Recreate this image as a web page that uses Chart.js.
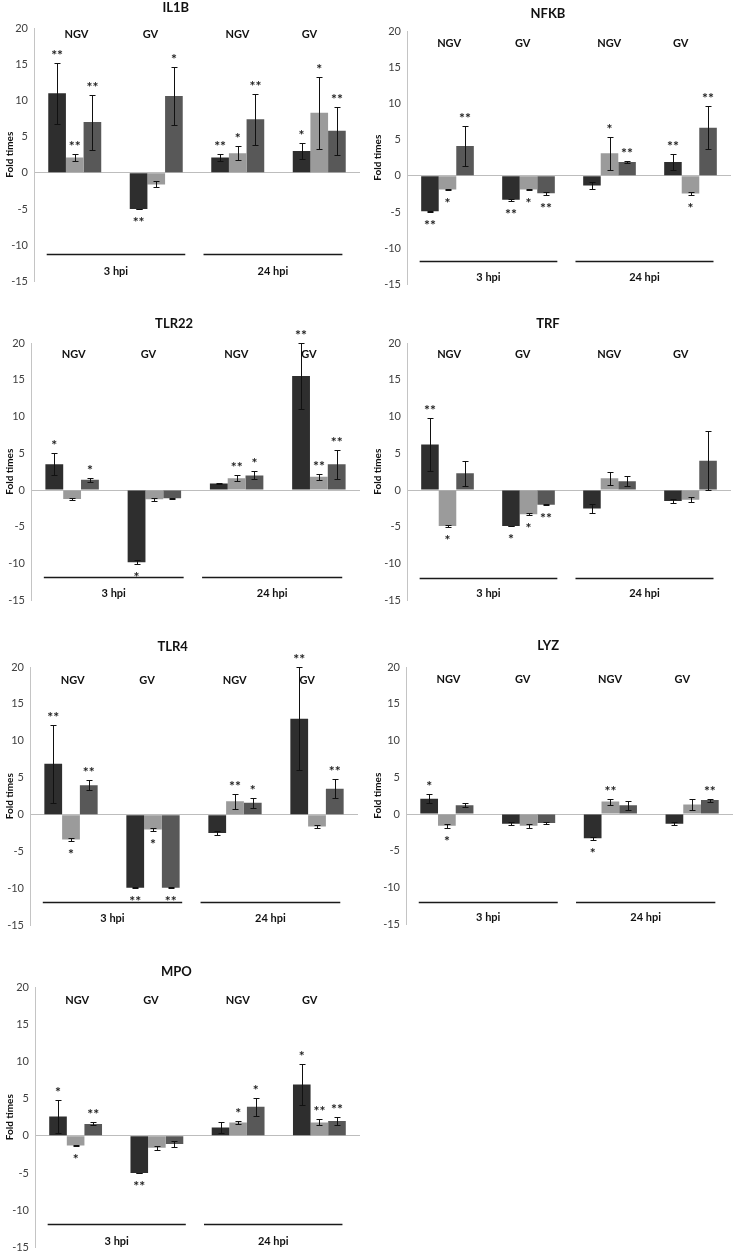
<!DOCTYPE html>
<html><head><meta charset="utf-8">
<script src="https://cdn.jsdelivr.net/npm/chart.js@4.4.0/dist/chart.umd.min.js"></script>
<style>
html,body{margin:0;padding:0;background:#fff;overflow:hidden;width:737px;height:1255px;position:relative;}
canvas{position:absolute;}
</style></head><body>
<script>
// ---------- data ----------
const groupLabels = ["NGV", "GV", "NGV", "GV"];
const timeLabels = ["3 hpi", "24 hpi"];
const seriesNames = ["Series 1", "Series 2", "Series 3"];
const yTicks = [-15, -10, -5, 0, 5, 10, 15, 20];
const yTitle = "Fold times";

const IL1B_values = [[11.0, -5.0, 2.1, 3.0], [2.1, -1.6, 2.7, 8.3], [7.0, 10.6, 7.4, 5.8]];
const IL1B_errors = [[4.2, 0.05, 0.5, 1.1], [0.5, 0.4, 1.0, 5.0], [3.8, 4.0, 3.5, 3.3]];
const IL1B_stars  = [["**", "**", "**", "*"], ["**", "", "*", "*"], ["**", "*", "**", "**"]];

const NFKB_values = [[-4.9, -3.3, -1.35, 1.9], [-1.9, -1.9, 3.1, -2.45], [4.1, -2.4, 1.9, 6.65]];
const NFKB_errors = [[0.1, 0.15, 0.5, 1.05], [0.1, 0.05, 2.3, 0.15], [2.8, 0.2, 0.15, 3.0]];
const NFKB_stars  = [["**", "**", "", "**"], ["*", "*", "*", "*"], ["**", "**", "**", "**"]];

const TLR22_values = [[3.5, -9.8, 0.9, 15.5], [-1.2, -1.25, 1.6, 1.8], [1.4, -1.1, 2.0, 3.5]];
const TLR22_errors = [[1.5, 0.3, 0.1, 4.5], [0.1, 0.2, 0.4, 0.45], [0.3, 0.05, 0.55, 2.0]];
const TLR22_stars  = [["*", "*", "", "**"], ["", "", "**", "**"], ["*", "", "*", "**"]];

const TRF_values = [[6.2, -4.9, -2.5, -1.5], [-4.9, -3.3, 1.6, -1.3], [2.3, -2.0, 1.2, 4.0]];
const TRF_errors = [[3.6, 0.05, 0.6, 0.3], [0.1, 0.15, 0.85, 0.3], [1.7, 0.05, 0.65, 4.0]];
const TRF_stars  = [["**", "*", "", ""], ["*", "*", "", ""], ["", "**", "", ""]];

const TLR4_values = [[6.9, -9.9, -2.5, 13.0], [-3.35, -2.0, 1.8, -1.6], [4.0, -9.9, 1.6, 3.5]];
const TLR4_errors = [[5.3, 0.05, 0.3, 7.0], [0.2, 0.2, 1.0, 0.15], [0.7, 0.05, 0.65, 1.3]];
const TLR4_stars  = [["**", "**", "", "**"], ["*", "*", "**", ""], ["**", "**", "*", "**"]];

const LYZ_values = [[2.1, -1.3, -3.3, -1.3], [-1.6, -1.6, 1.7, 1.3], [1.2, -1.2, 1.2, 1.9]];
const LYZ_errors = [[0.65, 0.25, 0.2, 0.2], [0.25, 0.25, 0.4, 0.7], [0.25, 0.1, 0.6, 0.2]];
const LYZ_stars  = [["*", "", "*", ""], ["*", "", "**", ""], ["", "", "", "**"]];

const MPO_values = [[2.6, -5.0, 1.1, 6.9], [-1.3, -1.6, 1.8, 1.8], [1.6, -1.1, 3.9, 2.0]];
const MPO_errors = [[2.2, 0.05, 0.75, 2.7], [0.1, 0.25, 0.2, 0.4], [0.2, 0.35, 1.2, 0.55]];
const MPO_stars  = [["*", "**", "", "*"], ["*", "", "*", "**"], ["**", "", "*", "**"]];

// ---------- style / layout ----------
const barColors = ["#2e2e2e", "#9b9b9b", "#585858"];
const FONT = "Lato, 'Liberation Sans', sans-serif";

const panels = [
  {title: "IL1B",  v: IL1B_values,  e: IL1B_errors,  s: IL1B_stars,  x0: 0,   w: 368, left: 34,  right: 360, top: 28,  bottom: 284,  titleDy: 20, groupDy: 6,  lineVal: -11.2, labVal: -13.6},
  {title: "NFKB",  v: NFKB_values,  e: NFKB_errors,  s: NFKB_stars,  x0: 368, w: 369, left: 407, right: 731, top: 31,  bottom: 287,  titleDy: 17, groupDy: 12, lineVal: -11.8, labVal: -14.0},
  {title: "TLR22", v: TLR22_values, e: TLR22_errors, s: TLR22_stars, x0: 0,   w: 368, left: 31,  right: 360, top: 343, bottom: 603,  titleDy: 19, groupDy: 11, lineVal: -11.8, labVal: -14.1},
  {title: "TRF",   v: TRF_values,   e: TRF_errors,   s: TRF_stars,   x0: 368, w: 369, left: 407, right: 731, top: 343, bottom: 603,  titleDy: 19, groupDy: 11, lineVal: -11.9, labVal: -14.1},
  {title: "TLR4",  v: TLR4_values,  e: TLR4_errors,  s: TLR4_stars,  x0: 0,   w: 368, left: 30,  right: 358, top: 667, bottom: 928,  titleDy: 20, groupDy: 13, lineVal: -11.85, labVal: -14.1},
  {title: "LYZ",   v: LYZ_values,   e: LYZ_errors,   s: LYZ_stars,   x0: 368, w: 369, left: 406, right: 733, top: 667, bottom: 927,  titleDy: 21, groupDy: 12, lineVal: -11.9, labVal: -14.1},
  {title: "MPO",   v: MPO_values,   e: MPO_errors,   s: MPO_stars,   x0: 0,   w: 368, left: 35,  right: 360, top: 987, bottom: 1250, titleDy: 15, groupDy: 13, lineVal: -11.8, labVal: -14.2}
];
const groupFrac = [0.13, 0.357, 0.624, 0.845];
const lineFrac = [[0.039, 0.464], [0.52, 0.946]];

function overlay(p) {
  return {
    id: 'overlay',
    afterDatasetsDraw(chart) {
      const ctx = chart.ctx, ys = chart.scales.y, a = chart.chartArea;
      const W = a.right - a.left;
      ctx.save();
      // error bars + stars
      p.v.forEach((vals, i) => {
        const meta = chart.getDatasetMeta(i);
        vals.forEach((val, j) => {
          const bar = meta.data[j];
          const err = p.e[i][j];
          const yt = Math.round(ys.getPixelForValue(val + err)) + 0.5;
          const yb = Math.round(ys.getPixelForValue(val - err)) + 0.5;
          const bx = Math.round(bar.x) + 0.5;
          ctx.strokeStyle = '#111'; ctx.lineWidth = 1;
          ctx.beginPath();
          ctx.moveTo(bx, yt); ctx.lineTo(bx, yb);
          ctx.moveTo(bx - 3, yt); ctx.lineTo(bx + 3, yt);
          ctx.moveTo(bx - 3, yb); ctx.lineTo(bx + 3, yb);
          ctx.stroke();
          const st = p.s[i][j];
          if (st) {
            ctx.font = 'bold 14px ' + FONT;
            ctx.textAlign = 'center'; ctx.textBaseline = 'middle'; ctx.fillStyle = '#1c1c1c';
            const yv = ys.getPixelForValue(val);
            const sy = val >= 0 ? Math.min(yt, yv) - 8.5 : Math.max(yb, yv) + 12.5;
            ctx.fillText(st, bar.x, sy);
          }
        });
      });
      // title
      ctx.fillStyle = '#111';
      ctx.textAlign = 'center'; ctx.textBaseline = 'middle';
      ctx.font = 'bold 13px ' + FONT;
      ctx.fillText(p.title, a.left + 0.435 * W, a.top - p.titleDy);
      // group labels
      ctx.font = 'bold 11px ' + FONT;
      groupLabels.forEach((g, k) => ctx.fillText(g, a.left + groupFrac[k] * W, a.top + p.groupDy));
      // time lines + labels
      const ly = Math.round(ys.getPixelForValue(p.lineVal)) + 0.5;
      const ty = ys.getPixelForValue(p.labVal);
      ctx.strokeStyle = '#1a1a1a'; ctx.lineWidth = 1.5;
      timeLabels.forEach((t, k) => {
        const x1 = a.left + lineFrac[k][0] * W, x2 = a.left + lineFrac[k][1] * W;
        ctx.beginPath(); ctx.moveTo(x1, ly); ctx.lineTo(x2, ly); ctx.stroke();
        ctx.fillText(t, (x1 + x2) / 2, ty);
      });
      ctx.restore();
    }
  };
}

panels.forEach(p => {
  const cv = document.createElement('canvas');
  const padTop = 32, padBottom = 10;
  const cTop = p.top - padTop;
  const cH = p.bottom - p.top + padTop + padBottom;
  cv.width = p.w; cv.height = cH;
  cv.style.left = p.x0 + 'px'; cv.style.top = cTop + 'px';
  cv.style.width = p.w + 'px'; cv.style.height = cH + 'px';
  document.body.appendChild(cv);
  const axisW = p.left - p.x0;
  new Chart(cv, {
    type: 'bar',
    data: {
      labels: groupLabels,
      datasets: p.v.map((vals, i) => ({
        label: seriesNames[i], data: vals, backgroundColor: barColors[i], borderWidth: 0,
        categoryPercentage: 0.65, barPercentage: 1.0
      }))
    },
    options: {
      responsive: false, animation: false, devicePixelRatio: 1,
      layout: {padding: {left: 0, top: padTop, right: p.x0 + p.w - p.right, bottom: padBottom}},
      plugins: {legend: {display: false}, tooltip: {enabled: false}, title: {display: false}},
      scales: {
        x: {display: false},
        y: {
          min: -15, max: 20,
          afterBuildTicks: s => { s.ticks = yTicks.map(v => ({value: v})); },
          afterFit: s => { s.width = axisW; },
          ticks: {padding: 6, color: '#404040', font: {family: FONT, size: 11}},
          grid: {drawTicks: false, color: c => (c.tick && c.tick.value === 0) ? '#bdbdbd' : 'rgba(0,0,0,0)', lineWidth: 1},
          border: {display: true, color: '#c4c4c4', width: 1},
          title: {display: true, text: yTitle, color: '#111', font: {family: FONT, size: 10, weight: 'bold'}, padding: {top: 4, bottom: 0}}
        }
      }
    },
    plugins: [overlay(p)]
  });
});
</script>
</body></html>
